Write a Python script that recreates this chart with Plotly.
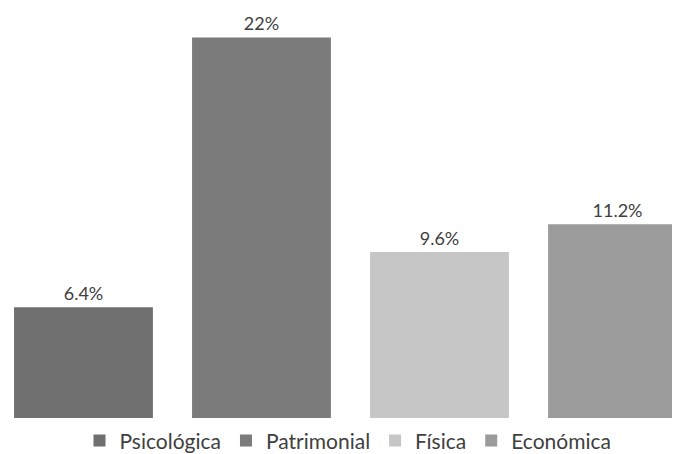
import plotly.graph_objects as go

categories = ["Psicológica", "Patrimonial", "Física", "Económica"]
values = [6.4, 22, 9.6, 11.2]
labels = ["6.4%", "22%", "9.6%", "11.2%"]
colors = ["#6f6f6f", "#7b7b7b", "#c6c6c6", "#9b9b9b"]

fig = go.Figure()
for cat, val, lab, col in zip(categories, values, labels, colors):
    fig.add_trace(go.Bar(
        x=[cat], y=[val], name=cat, width=0.78,
        marker=dict(color=col, line=dict(width=0)),
        text=[lab], textposition="outside", cliponaxis=False,
        textfont=dict(size=18, color="#404040", family="Lato"),
    ))

fig.update_layout(
    width=680, height=454,
    margin=dict(l=0, r=0, t=0, b=44),
    barmode="overlay",
    paper_bgcolor="white", plot_bgcolor="white",
    showlegend=True,
    legend=dict(orientation="h", x=0.5, xanchor="center", y=-0.056, yanchor="middle",
                font=dict(size=21, color="#404040", family="Lato"),
                itemsizing="constant", itemwidth=30, traceorder="normal"),
    xaxis=dict(type="category", range=[-0.424, 3.396], showticklabels=False,
               showgrid=False, zeroline=False, showline=False, ticks=""),
    yaxis=dict(range=[0, 23.7], visible=False, showgrid=False, zeroline=False),
)
fig.write_html("out.html")
